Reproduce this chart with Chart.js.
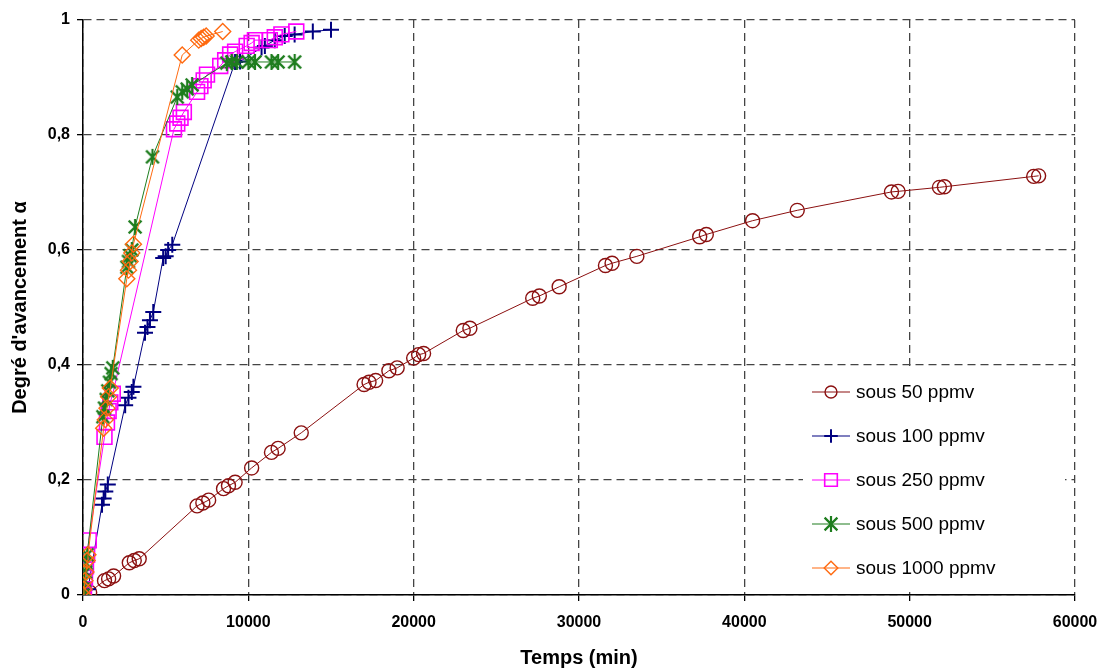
<!DOCTYPE html>
<html>
<head>
<meta charset="utf-8">
<script src="https://cdn.jsdelivr.net/npm/chart.js@4.4.1/dist/chart.umd.min.js"></script>
<style>
  html, body { margin: 0; padding: 0; background: #fff; }
  #wrap { width: 1106px; height: 671px; }
</style>
</head>
<body>
<div id="wrap"><canvas id="chart" width="1106" height="671"></canvas></div>
<script>
// temps (min) et degré d'avancement pour chaque concentration
const t50 = [0, 400, 1300, 1550, 1850, 2800, 3100, 3400, 6900, 7250, 7600, 8500, 8800, 9200, 10200, 11400, 11800, 13200,
  17000, 17300, 17700, 18500, 19000, 20000, 20300, 20600, 23000, 23400, 27200, 27600, 28800, 31600, 32000, 33500,
  37300, 37700, 40500, 43200, 48900, 49300, 51800, 52100, 57500, 57800];
const a50 = [0, 0.005, 0.025, 0.028, 0.033, 0.056, 0.06, 0.063, 0.155, 0.16, 0.165, 0.185, 0.19, 0.196, 0.221, 0.248, 0.255, 0.282,
  0.366, 0.37, 0.373, 0.39, 0.395, 0.412, 0.418, 0.42, 0.46, 0.464, 0.516, 0.52, 0.536, 0.573, 0.577, 0.589,
  0.623, 0.627, 0.651, 0.669, 0.701, 0.702, 0.709, 0.71, 0.728, 0.729];

const t100 = [0, 300, 1150, 1250, 1350, 1500, 2550, 2750, 2950, 3050, 3750, 3900, 4050, 4250, 4850, 5000, 5150, 5400,
  9200, 9500, 10800, 11000, 11600, 12200, 12800, 13900, 15000];
const a100 = [0, 0.01, 0.157, 0.168, 0.18, 0.192, 0.33, 0.343, 0.353, 0.362, 0.456, 0.466, 0.478, 0.492, 0.586, 0.589, 0.6, 0.609,
  0.927, 0.928, 0.952, 0.955, 0.965, 0.972, 0.975, 0.98, 0.983];

const t250 = [0, 60, 120, 180, 250, 350, 1300, 1450, 1550, 1650, 1800, 5500, 5700, 5900, 6100, 6900, 7100, 7300, 7500,
  8300, 8600, 8900, 9200, 9900, 10200, 10400, 11300, 11600, 12000, 12900];
const a250 = [0, 0.01, 0.03, 0.05, 0.07, 0.095, 0.275, 0.3, 0.32, 0.335, 0.35, 0.81, 0.82, 0.83, 0.84, 0.875, 0.885, 0.895, 0.905,
  0.92, 0.93, 0.94, 0.945, 0.955, 0.96, 0.965, 0.965, 0.97, 0.975, 0.98];

const t500 = [0, 50, 100, 150, 200, 250, 1200, 1300, 1400, 1500, 1600, 1700, 1800, 2650, 2750, 2850, 2950, 3150, 4200,
  5700, 6000, 6300, 6600, 8700, 9000, 9300, 10000, 10400, 11400, 11800, 12800];
const a500 = [0, 0.01, 0.025, 0.04, 0.055, 0.07, 0.31, 0.325, 0.34, 0.355, 0.37, 0.385, 0.395, 0.57, 0.58, 0.59, 0.6, 0.64, 0.762,
  0.866, 0.875, 0.88, 0.887, 0.925, 0.927, 0.927, 0.927, 0.927, 0.927, 0.927, 0.927];

const t1000 = [0, 60, 120, 180, 250, 300, 1250, 1350, 1450, 1550, 1650, 2650, 2750, 2850, 2950, 3050, 6000, 7000, 7150, 7300, 7450, 8450];
const a1000 = [0, 0.01, 0.025, 0.04, 0.06, 0.07, 0.29, 0.305, 0.325, 0.345, 0.36, 0.55, 0.565, 0.58, 0.595, 0.61, 0.939, 0.965, 0.968, 0.97, 0.972, 0.98];

const seriesLabels = ['sous 50 ppmv', 'sous 100 ppmv', 'sous 250 ppmv', 'sous 500 ppmv', 'sous 1000 ppmv'];
const xTicks = [0, 10000, 20000, 30000, 40000, 50000, 60000];
const yTickLabels = ['0', '0,2', '0,4', '0,6', '0,8', '1'];

const FONT = "'Liberation Sans', Arial, sans-serif";

function toPoints(xs, ys) {
  return xs.map((x, i) => ({ x: x, y: ys[i] }));
}

// marqueur astérisque (trait vertical + deux diagonales)
function asterisk(color, size, lw) {
  const c = document.createElement('canvas');
  c.width = size; c.height = size;
  const g = c.getContext('2d');
  const m = size / 2, r = size / 2 - 1;
  g.strokeStyle = color;
  g.lineWidth = lw;
  g.beginPath();
  g.moveTo(m, m - r); g.lineTo(m, m + r);
  g.moveTo(m - r * 0.8, m - r * 0.8); g.lineTo(m + r * 0.8, m + r * 0.8);
  g.moveTo(m + r * 0.8, m - r * 0.8); g.lineTo(m - r * 0.8, m + r * 0.8);
  g.stroke();
  return c;
}

const colors = ['#8B1010', '#000080', '#FF00FF', '#1E7D1E', '#FF6A10'];
const styles = ['circle', 'cross', 'rect', asterisk('#1E7D1E', 18, 2.2), 'rectRot'];
const radii = [7, 8, 10.5, 9, 8];
const widths = [1.4, 2, 1.6, 2.2, 1.4];
const xs = [t50, t100, t250, t500, t1000];
const ys = [a50, a100, a250, a500, a1000];

const datasets = seriesLabels.map((label, i) => ({
  label: label,
  data: toPoints(xs[i], ys[i]),
  borderColor: colors[i],
  backgroundColor: 'rgba(0,0,0,0)',
  borderWidth: 1,
  showLine: true,
  tension: 0,
  pointStyle: styles[i],
  pointRadius: radii[i],
  pointBorderColor: colors[i],
  pointBackgroundColor: 'rgba(0,0,0,0)',
  pointBorderWidth: widths[i],
  order: seriesLabels.length - i
}));

// légende dessinée dans la zone de tracé (fond blanc) : trait - marqueur - trait
const insideLegend = {
  id: 'insideLegend',
  afterDraw(chart) {
    const ctx = chart.ctx;
    const area = chart.chartArea;
    const x0 = area.right - 263, x1 = area.right - 225, xm = (x0 + x1) / 2;
    ctx.save();
    ctx.fillStyle = '#fff';
    ctx.fillRect(area.right - 272, area.bottom - 226, 262, 222);
    seriesLabels.forEach((label, i) => {
      const y = area.bottom - 203 + i * 44;
      ctx.strokeStyle = colors[i];
      ctx.lineWidth = 1.2;
      ctx.setLineDash([]);
      ctx.beginPath();
      ctx.moveTo(x0, y); ctx.lineTo(x1, y);
      ctx.stroke();
      ctx.lineWidth = widths[i];
      ctx.fillStyle = 'rgba(0,0,0,0)';
      Chart.helpers.drawPoint(ctx, {
        pointStyle: styles[i], radius: radii[i] * 0.85, rotation: 0, borderWidth: widths[i]
      }, xm, y);
      ctx.fillStyle = '#000';
      ctx.font = '19px ' + FONT;
      ctx.textBaseline = 'middle';
      ctx.fillText(label, area.right - 219, y + 1);
    });
    ctx.restore();
  }
};

const gridOpts = {
  color: '#444',
  lineWidth: 1.3,
  tickLength: 6,
  tickColor: '#000',
  tickBorderDash: [],
  tickWidth: 1.3
};

new Chart(document.getElementById('chart'), {
  type: 'scatter',
  data: { datasets: datasets },
  plugins: [insideLegend],
  options: {
    responsive: false,
    animation: false,
    layout: { padding: { left: 0, right: 31, top: 20, bottom: 0 } },
    plugins: { legend: { display: false }, tooltip: { enabled: false } },
    scales: {
      x: {
        type: 'linear',
        min: 0,
        max: 60000,
        afterBuildTicks: (scale) => { scale.ticks = xTicks.map(v => ({ value: v })); },
        afterFit: (scale) => {
          scale.height = 76;
          scale.paddingLeft = 0;
          scale.paddingRight = 0;
        },
        ticks: {
          callback: (v) => String(v),
          font: { family: FONT, size: 16, weight: 'bold' },
          color: '#000',
          padding: 12,
          maxRotation: 0
        },
        grid: gridOpts,
        border: { display: true, color: '#000', width: 1.5, dash: [8, 5] },
        title: {
          display: true,
          text: 'Temps (min)',
          font: { family: FONT, size: 20, weight: 'bold', lineHeight: 1.2 },
          color: '#000',
          padding: { top: 0, bottom: 1 }
        }
      },
      y: {
        min: 0,
        max: 1,
        afterBuildTicks: (scale) => { scale.ticks = yTickLabels.map((s, i) => ({ value: i * 0.2 })); },
        afterFit: (scale) => { scale.width = 83; },
        ticks: {
          callback: (v, i) => yTickLabels[i],
          font: { family: FONT, size: 16, weight: 'bold' },
          color: '#000',
          padding: 7
        },
        grid: gridOpts,
        border: { display: true, color: '#000', width: 1.5, dash: [8, 5] },
        title: {
          display: true,
          text: "Degré d'avancement α",
          font: { family: FONT, size: 20, weight: 'bold', lineHeight: 1.2 },
          color: '#000',
          padding: { top: 8, bottom: 0 }
        }
      }
    }
  }
});
</script>
</body>
</html>
